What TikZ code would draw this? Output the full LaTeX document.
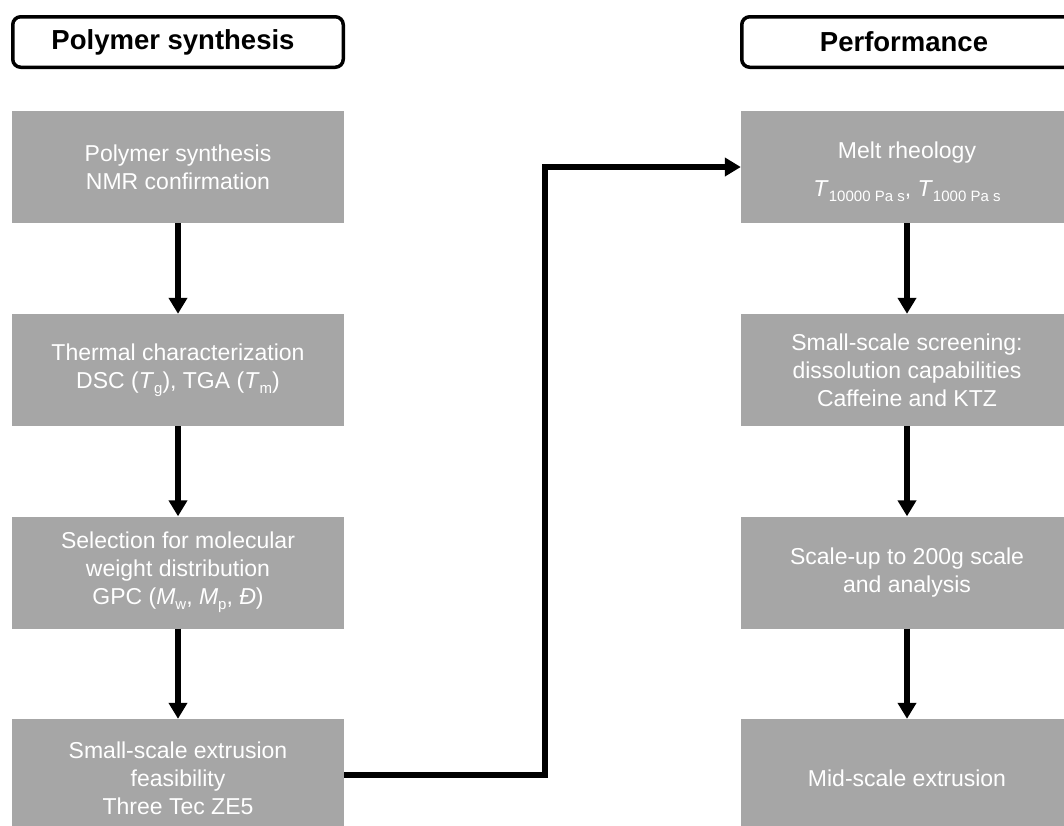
\documentclass[tikz,border=0pt]{standalone}
\usepackage{fontspec}
\setmainfont{Liberation Sans}
\usetikzlibrary{arrows.meta}
\definecolor{boxgray}{HTML}{A6A6A6}
% lowered, smaller index text (subscripts set in text font)
\newcommand\lowidx[1]{\raisebox{-0.22em}{\fontsize{15}{15}\selectfont #1}}
\tikzset{
  header/.style={draw, line width=3.5pt, rounded corners=8pt,
    minimum width=330.5pt, minimum height=50.5pt, inner sep=0pt,
    font=\fontsize{27.5}{32}\selectfont\bfseries},
  stage/.style={fill=boxgray, text=white, minimum width=332pt,
    minimum height=112pt, inner sep=0pt, align=center,
    font=\fontsize{23}{28}\selectfont},
  flow/.style={line width=5.5pt, line join=miter,
    -{Triangle[length=16pt,width=18pt]}},
}
\begin{document}
\begin{tikzpicture}[x=1pt,y=1pt]
\useasboundingbox (0,0) rectangle (1064,-825);

% column headers
\node[header] (hL) at (178,-42) {\hspace*{-10pt}Polymer synthesis};
\node[header] (hR) at (907,-42) {\hspace*{-6pt}Performance};

% left column: synthesis and characterization
\node[stage] (syn) at (178,-167) {Polymer synthesis\\NMR confirmation};
\node[stage] (thermal) at (178,-370)
  {Thermal characterization\\DSC (\textit{T}\lowidx{g}), TGA (\textit{T}\lowidx{m})};
\node[stage] (sel) at (178,-572.5)
  {Selection for molecular\\weight distribution\\GPC (\textit{M}\lowidx{w}, \textit{M}\lowidx{p}, \textit{Đ})};
\node[stage, minimum height=118pt] (sse) at (178,-778)
  {Small-scale extrusion\\feasibility\\Three Tec ZE5};

% right column: performance
\node[stage] (melt) at (907,-167)
  {\raisebox{0pt}[\dimexpr\height+10pt\relax][\depth]{Melt rheology}\\[10pt]\textit{T}\lowidx{10000 Pa s}, \textit{T}\lowidx{1000 Pa s}};
\node[stage] (screen) at (907,-370)
  {Small-scale screening:\\dissolution capabilities\\Caffeine and KTZ};
\node[stage] (scale) at (907,-572.5) {Scale-up to 200g scale\\and analysis};
\node[stage, minimum height=118pt] (mid) at (907,-778) {Mid-scale extrusion};

% vertical flow arrows
\draw[flow] (syn.south) -- (thermal.north);
\draw[flow] (thermal.south) -- (sel.north);
\draw[flow] (sel.south) -- (sse.north);
\draw[flow] (melt.south) -- (screen.north);
\draw[flow] (screen.south) -- (scale.north);
\draw[flow] (scale.south) -- (mid.north);

% link between the two columns
\coordinate (bend) at (545,-775);
\draw[flow] (sse.east |- bend) -- (bend) |- (melt.west);
\end{tikzpicture}
\end{document}
